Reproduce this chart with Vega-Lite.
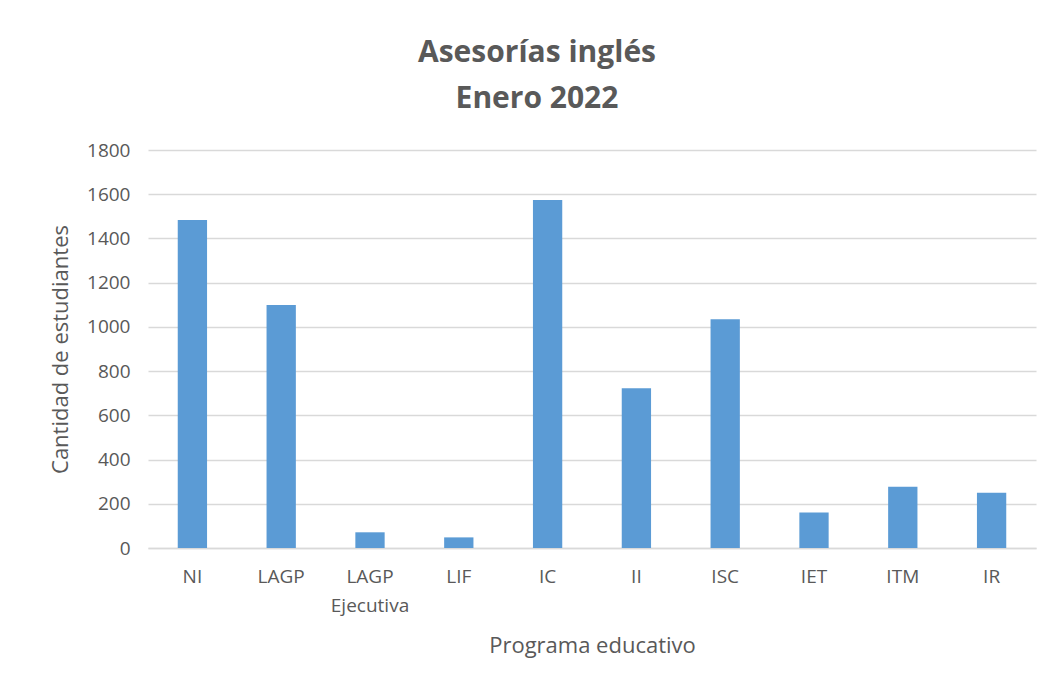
{
  "$schema": "https://vega.github.io/schema/vega-lite/v6.json",
  "autosize": {"type": "none"},
  "width": 888,
  "height": 398,
  "padding": {"left": 148, "top": 150, "right": 20, "bottom": 141},
  "background": "white",
  "title": {
    "text": ["Asesorías inglés", "Enero 2022"],
    "fontSize": 30,
    "fontWeight": "bold",
    "font": "Open Sans",
    "color": "#595959",
    "lineHeight": 46,
    "offset": 27,
    "dx": -55,
    "anchor": "middle"
  },
  "data": {
    "values": [
      {"programa": "NI", "estudiantes": 1483},
      {"programa": "LAGP", "estudiantes": 1099},
      {"programa": "LAGP Ejecutiva", "estudiantes": 71},
      {"programa": "LIF", "estudiantes": 48},
      {"programa": "IC", "estudiantes": 1574},
      {"programa": "II", "estudiantes": 722},
      {"programa": "ISC", "estudiantes": 1034},
      {"programa": "IET", "estudiantes": 160},
      {"programa": "ITM", "estudiantes": 277},
      {"programa": "IR", "estudiantes": 250}
    ]
  },
  "mark": {"type": "bar", "color": "#5b9bd5"},
  "encoding": {
    "x": {
      "field": "programa",
      "type": "nominal",
      "sort": null,
      "scale": {"paddingInner": 0.67, "paddingOuter": 0.335},
      "axis": {
        "title": "Programa educativo",
        "titleFont": "Open Sans",
        "titleFontSize": 22,
        "titleFontWeight": "normal",
        "titleColor": "#595959",
        "titlePadding": 20,
        "labelAngle": 0,
        "labelFont": "Open Sans",
        "labelFontSize": 19,
        "labelColor": "#595959",
        "labelPadding": 19,
        "labelLineHeight": 29,
        "labelExpr": "datum.label == 'LAGP Ejecutiva' ? ['LAGP', 'Ejecutiva'] : datum.label",
        "ticks": false,
        "domainColor": "#d9d9d9",
        "domainWidth": 1.5
      }
    },
    "y": {
      "field": "estudiantes",
      "type": "quantitative",
      "scale": {"domain": [0, 1800], "nice": false},
      "axis": {
        "title": "Cantidad de estudiantes",
        "titleFont": "Open Sans",
        "titleFontSize": 22,
        "titleFontWeight": "normal",
        "titleColor": "#595959",
        "titlePadding": 14,
        "values": [0, 200, 400, 600, 800, 1000, 1200, 1400, 1600, 1800],
        "format": "d",
        "labelFont": "Open Sans",
        "labelFontSize": 19,
        "labelColor": "#595959",
        "labelPadding": 18,
        "ticks": false,
        "domain": false,
        "gridColor": "#d9d9d9",
        "gridWidth": 1.5
      }
    }
  },
  "config": {"view": {"stroke": null}}
}
